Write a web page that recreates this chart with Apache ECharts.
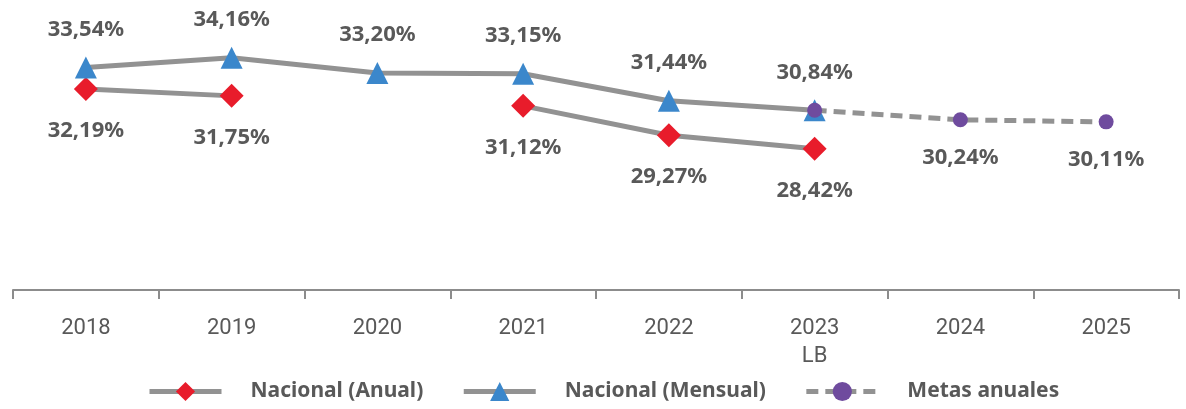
<!DOCTYPE html>
<html>
<head>
<meta charset="utf-8">
<script src="https://cdn.jsdelivr.net/npm/echarts@6/dist/echarts.min.js"></script>
<style>
  html, body { margin: 0; padding: 0; background: #fff; }
  #chart { width: 1186px; height: 409px; }
</style>
</head>
<body>
<div id="chart"></div>
<script>
var chart = echarts.init(document.getElementById('chart'));

var years = ['2018', '2019', '2020', '2021', '2022', '2023\nLB', '2024', '2025'];
var anual = [32.19, 31.75, null, 31.12, 29.27, 28.42, null, null];
var mensual = [33.54, 34.16, 33.20, 33.15, 31.44, 30.84, null, null];
var metas = [null, null, null, null, null, 30.84, 30.24, 30.11];

var gray = '#595959';
var lineGray = '#929292';

function pct(p) {
    return p.value.toFixed(2).replace('.', ',') + '%';
}

function lbl(pos, dist, fmt) {
    return {
        show: true,
        position: pos,
        distance: dist,
        formatter: fmt || pct,
        color: gray,
        fontFamily: 'Noto Sans',
        fontWeight: 'bold',
        fontSize: 22
    };
}

var option = {
    animation: false,
    grid: { left: 13, right: 7, top: 0, bottom: 119 },
    legend: {
        bottom: 2,
        left: 142,
        itemWidth: 72,
        itemHeight: 24,
        itemGap: 38,
        lineStyle: { width: 5 },
        textStyle: {
            color: gray,
            fontFamily: 'Noto Sans',
            fontWeight: 'bold',
            fontSize: 21,
            padding: [0, 0, 0, 24]
        },
        data: ['Nacional (Anual)', 'Nacional (Mensual)', 'Metas anuales']
    },
    xAxis: {
        type: 'category',
        data: years,
        boundaryGap: true,
        axisLine: { lineStyle: { color: '#8c8c8c', width: 2 } },
        axisTick: { show: true, length: 9, lineStyle: { color: '#8c8c8c', width: 2 } },
        axisLabel: {
            color: gray,
            fontFamily: 'Roboto',
            fontSize: 22,
            margin: 24,
            lineHeight: 28
        }
    },
    yAxis: {
        type: 'value',
        min: 19.5,
        max: 37.8,
        show: false,
        splitLine: { show: false }
    },
    series: [
        {
            name: 'Nacional (Anual)',
            type: 'line',
            data: anual,
            connectNulls: false,
            symbol: 'diamond',
            symbolSize: 24,
            itemStyle: { color: '#e81c2b' },
            lineStyle: { color: lineGray, width: 5 },
            label: lbl('bottom', 19),
            z: 3
        },
        {
            name: 'Nacional (Mensual)',
            type: 'line',
            data: mensual,
            symbol: 'triangle',
            symbolSize: 22,
            itemStyle: { color: '#3b87cb' },
            lineStyle: { color: lineGray, width: 5 },
            label: lbl('top', 16),
            z: 3
        },
        {
            name: 'Metas anuales',
            type: 'line',
            data: metas,
            symbol: 'circle',
            symbolSize: 15,
            itemStyle: { color: '#6f4b9e' },
            lineStyle: { color: lineGray, width: 5, type: [12, 7] },
            label: lbl('bottom', 19, function (p) {
                return p.dataIndex === 5 ? '' : pct(p);
            }),
            z: 4
        }
    ]
};

chart.setOption(option);
</script>
</body>
</html>
